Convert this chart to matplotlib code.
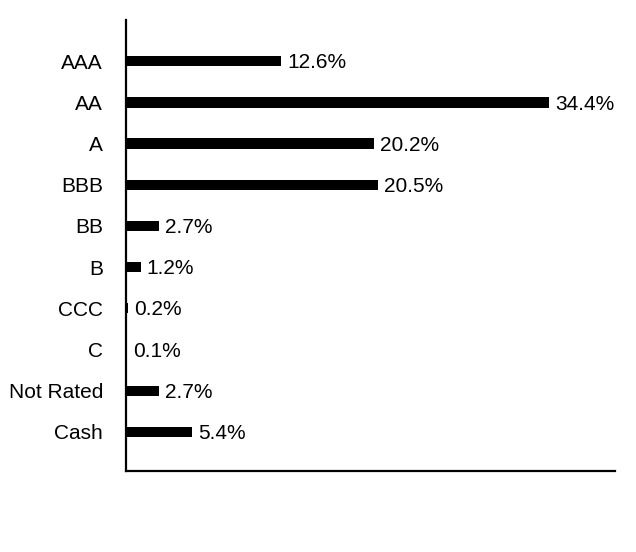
import matplotlib
matplotlib.use("Agg")
import matplotlib.pyplot as plt

categories = ["AAA", "AA", "A", "BBB", "BB", "B", "CCC", "C", "Not Rated", "Cash"]
values = [12.6, 34.4, 20.2, 20.5, 2.7, 1.2, 0.2, 0.1, 2.7, 5.4]
labels = ["12.6%", "34.4%", "20.2%", "20.5%", "2.7%", "1.2%", "0.2%", "0.1%", "2.7%", "5.4%"]

plt.rcParams['font.family'] = ['Liberation Sans', 'DejaVu Sans']

fig = plt.figure(figsize=(6.36, 5.52), dpi=100)
ax = fig.add_axes([0.198, 0.1467, 0.769, 0.8171])

pos = list(range(len(categories)))
ax.barh(pos, values, height=0.25, color="black")
for p, v, l in zip(pos, values, labels):
    ax.text(v + 0.5, p + 0.04, l, va="center", ha="left", fontsize=15)

ax.set_yticks(pos)
ax.set_yticklabels(categories, fontsize=15)
ax.tick_params(axis="y", length=0, pad=16.5)
ax.set_xticks([])
ax.set_xlim(0, 39.8)
ax.set_ylim(9.95, -1.0)
for s in ["top", "right"]:
    ax.spines[s].set_visible(False)
for s in ["left", "bottom"]:
    ax.spines[s].set_linewidth(1.6)

fig.savefig("out.png", dpi=100)
